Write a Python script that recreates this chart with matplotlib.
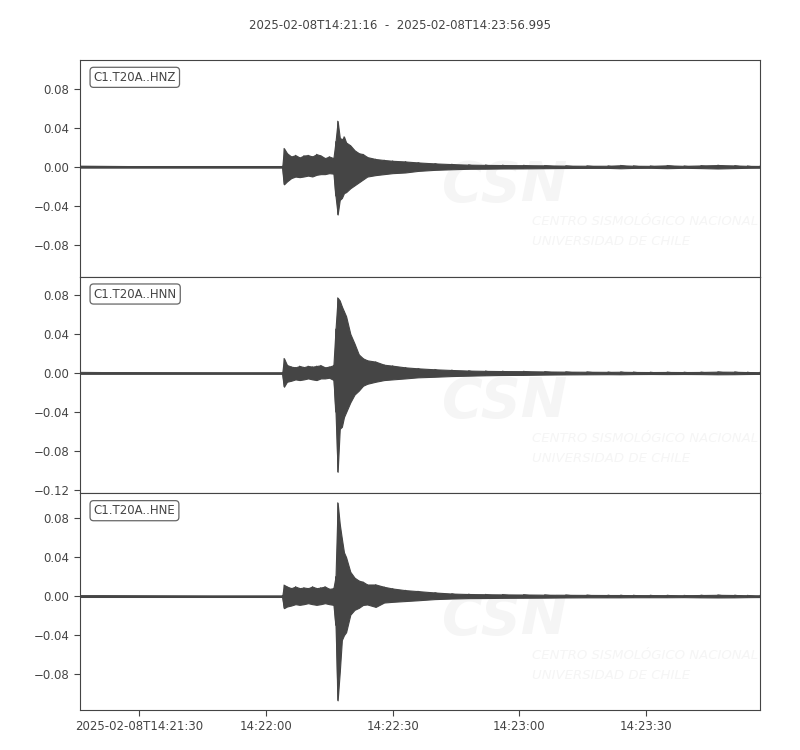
import datetime as dt
import numpy as np
import matplotlib
matplotlib.use("Agg")
import matplotlib.pyplot as plt
import matplotlib.dates as mdates
from matplotlib.ticker import MultipleLocator, FuncFormatter

# record window
start = dt.datetime(2025, 2, 8, 14, 21, 16)
end = start + dt.timedelta(seconds=160.995)
title = "2025-02-08T14:21:16  -  2025-02-08T14:23:56.995"

channels = ["C1.T20A..HNZ", "C1.T20A..HNN", "C1.T20A..HNE"]

# envelope of each trace: seconds after start, max and min per bin
t_sec = [0, 47.9, 48.3, 49, 50, 51, 52, 53, 54, 55, 56, 57, 58, 59, 60,
         60.5, 61, 61.5, 62, 62.5, 63, 64, 65, 66, 67, 68, 70, 72, 74, 77,
         80, 84, 88, 92, 96, 100, 105, 110, 115, 120, 125, 128, 131, 135,
         139, 143, 147, 151, 155, 158, 161]

hnz_max = [0.0008, 0.0008, 0.019, 0.014, 0.0106, 0.012, 0.0096, 0.0116, 0.012,
           0.0106, 0.013, 0.0116, 0.0089, 0.0106, 0.0089, 0.026, 0.047, 0.030,
           0.028, 0.031, 0.025, 0.022, 0.017, 0.014, 0.013, 0.010, 0.008, 0.007,
           0.0062, 0.0055, 0.0045, 0.0035, 0.0028, 0.0022, 0.002, 0.0018, 0.0017,
           0.0015, 0.0012, 0.0011, 0.0011, 0.0016, 0.0011, 0.001, 0.0015, 0.001,
           0.0014, 0.0018, 0.0014, 0.001, 0.0009]
hnz_min = [-0.0008, -0.0008, -0.018, -0.015, -0.0116, -0.010, -0.0106, -0.0099,
           -0.009, -0.0099, -0.0082, -0.0075, -0.0075, -0.0065, -0.0070, -0.030,
           -0.049, -0.034, -0.032, -0.027, -0.026, -0.022, -0.019, -0.016, -0.013,
           -0.010, -0.0085, -0.0075, -0.0065, -0.0058, -0.0042, -0.0031, -0.0025,
           -0.002, -0.0019, -0.0017, -0.0016, -0.0014, -0.0012, -0.0011, -0.0011,
           -0.0015, -0.0011, -0.001, -0.0014, -0.001, -0.0013, -0.0017, -0.0013,
           -0.001, -0.0009]

hnn_max = [0.0008, 0.0008, 0.015, 0.0082, 0.0065, 0.0058, 0.0072, 0.0060, 0.0072,
           0.0065, 0.0072, 0.0079, 0.0058, 0.0065, 0.0080, 0.045, 0.077, 0.074,
           0.068, 0.063, 0.058, 0.040, 0.030, 0.019, 0.015, 0.013, 0.0116, 0.0085,
           0.0075, 0.0058, 0.0048, 0.0038, 0.0031, 0.0025, 0.0022, 0.002, 0.0019,
           0.0016, 0.0014, 0.0013, 0.0012, 0.0013, 0.0011, 0.001, 0.0011, 0.001,
           0.0011, 0.0014, 0.0013, 0.001, 0.0009]
hnn_min = [-0.0008, -0.0008, -0.014, -0.0089, -0.0079, -0.0065, -0.0072, -0.0065,
           -0.0055, -0.0065, -0.0072, -0.0055, -0.0055, -0.0048, -0.007, -0.040,
           -0.101, -0.057, -0.055, -0.045, -0.040, -0.030, -0.022, -0.018, -0.013,
           -0.011, -0.0089, -0.0072, -0.0065, -0.0055, -0.0044, -0.0038, -0.0031,
           -0.0027, -0.0023, -0.002, -0.0019, -0.0016, -0.0014, -0.0013, -0.0012,
           -0.0013, -0.0011, -0.001, -0.0011, -0.001, -0.0011, -0.0013, -0.0012,
           -0.001, -0.0009]

hne_max = [0.0008, 0.0008, 0.0116, 0.0099, 0.0082, 0.0099, 0.0082, 0.0089, 0.0082,
           0.0099, 0.0082, 0.0089, 0.0099, 0.0075, 0.0082, 0.020, 0.096, 0.074,
           0.059, 0.045, 0.040, 0.025, 0.019, 0.016, 0.0147, 0.012, 0.012, 0.0096,
           0.0079, 0.0062, 0.0052, 0.0038, 0.0027, 0.0022, 0.002, 0.0018, 0.0017,
           0.0015, 0.0014, 0.0013, 0.0012, 0.0012, 0.0011, 0.0011, 0.0011, 0.001,
           0.0012, 0.0014, 0.0012, 0.001, 0.0009]
hne_min = [-0.0008, -0.0008, -0.0123, -0.0106, -0.0096, -0.0082, -0.0089, -0.0082,
           -0.0072, -0.0082, -0.0089, -0.0082, -0.0072, -0.0082, -0.0089, -0.030,
           -0.107, -0.078, -0.045, -0.040, -0.037, -0.019, -0.014, -0.012, -0.009,
           -0.0085, -0.011, -0.0065, -0.0058, -0.005, -0.0042, -0.003, -0.0024,
           -0.002, -0.0019, -0.0017, -0.0016, -0.0015, -0.0013, -0.0012, -0.0012,
           -0.0012, -0.0011, -0.0011, -0.0011, -0.001, -0.0012, -0.0013, -0.0012,
           -0.001, -0.0009]

env_max = [hnz_max, hnn_max, hne_max]
env_min = [hnz_min, hnn_min, hne_min]
ylims = [(-0.1128, 0.1097), (-0.123, 0.0985), (-0.1169, 0.1056)]

tick_times = [dt.datetime(2025, 2, 8, 14, 21, 30), dt.datetime(2025, 2, 8, 14, 22, 0),
              dt.datetime(2025, 2, 8, 14, 22, 30), dt.datetime(2025, 2, 8, 14, 23, 0),
              dt.datetime(2025, 2, 8, 14, 23, 30)]
tick_labels = ["2025-02-08T14:21:30", "14:22:00", "14:22:30", "14:23:00", "14:23:30"]

txt = "#444444"
trace_col = "#454545"
wm_col = "#f5f5f5"


def fmt_amp(v, pos):
    return ("%.2f" % v).replace("-", "\u2212")


fig, axes = plt.subplots(3, 1, figsize=(8, 7.5), dpi=100, sharex=True)
fig.subplots_adjust(left=0.1, right=0.95, top=0.92, bottom=0.0533, hspace=0)

x = mdates.date2num([start + dt.timedelta(seconds=s) for s in t_sec])

for i, ax in enumerate(axes):
    hi = np.array(env_max[i])
    lo = np.array(env_min[i])

    # faint CSN watermark
    ax.text(0.625, 0.42, "CSN", transform=ax.transAxes, ha="center", va="center",
            fontsize=40, fontweight="bold", style="italic", color=wm_col, zorder=0)
    ax.text(0.665, 0.253, "CENTRO SISMOLÓGICO NACIONAL", transform=ax.transAxes,
            ha="left", va="center", fontsize=9.5, style="italic", color=wm_col, zorder=0)
    ax.text(0.665, 0.161, "UNIVERSIDAD DE CHILE", transform=ax.transAxes,
            ha="left", va="center", fontsize=9.5, style="italic", color=wm_col, zorder=0)

    # min/max envelope drawn like obspy does for long traces
    ax.fill_between(x, lo, hi, color=trace_col, lw=0.8, zorder=2)
    xs = np.repeat(x, 2)
    ys = np.column_stack([lo, hi]).ravel()
    ax.plot(xs, ys, color=trace_col, lw=0.6, zorder=3)

    ax.set_ylim(*ylims[i])
    ax.yaxis.set_major_locator(MultipleLocator(0.04))
    ax.yaxis.set_major_formatter(FuncFormatter(fmt_amp))
    ax.tick_params(labelsize=8.5, colors=txt, length=4, width=0.8)
    for sp in ax.spines.values():
        sp.set_color(txt)
        sp.set_linewidth(0.8)

    ax.text(0.02, 0.95, channels[i], transform=ax.transAxes, ha="left", va="top",
            fontsize=8.5, color=txt,
            bbox=dict(boxstyle="round", fc="white", ec="#555555", lw=0.9, alpha=0.9),
            zorder=5)

axes[-1].set_xlim(mdates.date2num(start), mdates.date2num(end))
axes[-1].set_xticks(mdates.date2num(tick_times))
axes[-1].set_xticklabels(tick_labels)
for ax in axes[:-1]:
    ax.tick_params(axis="x", labelbottom=False)

fig.suptitle(title, y=0.975, fontsize=8.5, color=txt)

fig.savefig("out.png", dpi=100)
